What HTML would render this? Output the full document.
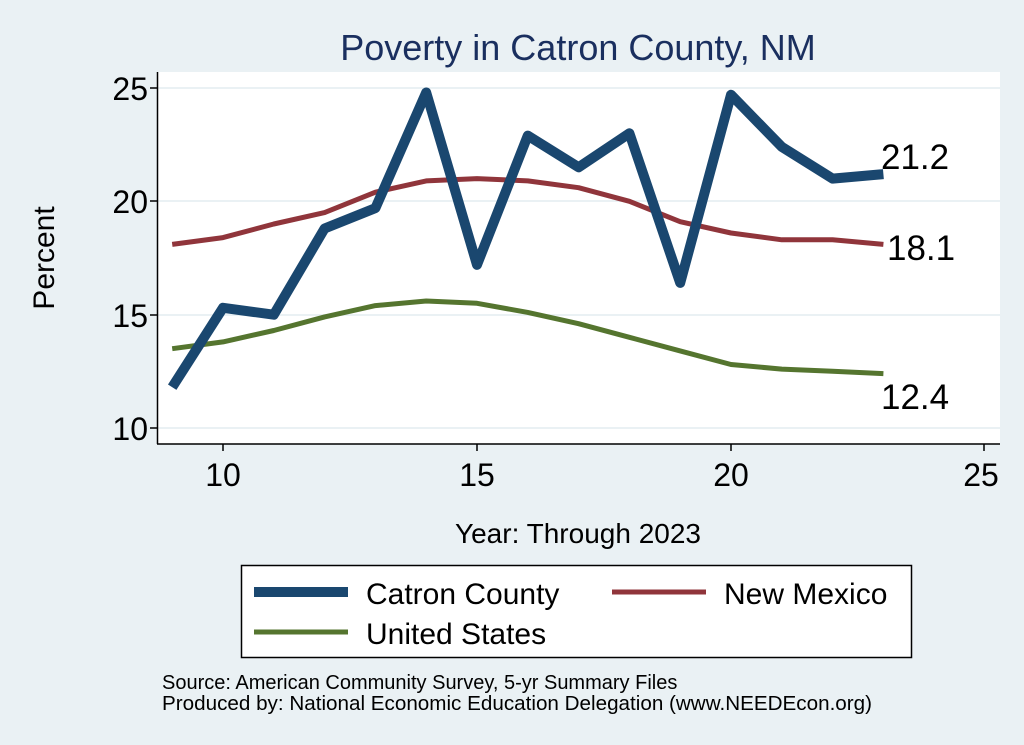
<!DOCTYPE html>
<html><head><meta charset="utf-8"><style>
body{margin:0;background:#eaf1f4;}
svg{display:block;font-family:"Liberation Sans",Arial,sans-serif;}
</style></head><body>
<svg width="1024" height="745" viewBox="0 0 1024 745">
<rect width="1024" height="745" fill="#eaf1f4"/>
<text x="578" y="60" font-size="36" fill="#1a2f5f" text-anchor="middle">Poverty in Catron County, NM</text>
<rect x="158" y="72" width="842" height="372" fill="#fff"/>
<g stroke="#eaf1f4" stroke-width="2">
<line x1="158" x2="1000" y1="88" y2="88"/><line x1="158" x2="1000" y1="201" y2="201"/>
<line x1="158" x2="1000" y1="315" y2="315"/><line x1="158" x2="1000" y1="428" y2="428"/>
</g>
<g stroke="#000" stroke-width="1.5">
<line x1="157.5" y1="72" x2="157.5" y2="444"/><line x1="157" y1="444" x2="1000" y2="444"/>
<line x1="150" x2="157" y1="88" y2="88"/><line x1="150" x2="157" y1="201" y2="201"/>
<line x1="150" x2="157" y1="315" y2="315"/><line x1="150" x2="157" y1="428" y2="428"/>
<line x1="223" x2="223" y1="444" y2="451"/><line x1="477" x2="477" y1="444" y2="451"/>
<line x1="731" x2="731" y1="444" y2="451"/><line x1="984" x2="984" y1="444" y2="451"/>
</g>
<g font-size="32" text-anchor="end" fill="#000">
<text x="148" y="100">25</text><text x="148" y="213">20</text><text x="148" y="327">15</text><text x="148" y="440">10</text>
</g>
<g font-size="32" text-anchor="middle" fill="#000">
<text x="223" y="486">10</text><text x="477" y="486">15</text><text x="731" y="486">20</text><text x="981" y="486">25</text>
</g>
<text x="578" y="543" font-size="28" text-anchor="middle">Year: Through 2023</text>
<text transform="translate(54,258) rotate(-90)" font-size="30" text-anchor="middle">Percent</text>
<g fill="none" stroke-linejoin="round">
<polyline stroke="#55752f" stroke-width="5" points="172.2,348.7 223,341.9 273.8,330.5 324.6,316.9 375.4,305.6 426.2,301 477,303.3 527.8,312.4 578.6,323.7 629.4,337.3 680.2,350.9 731,364.5 781.8,369.1 832.6,371.3 883.4,373.6"/>
<polyline stroke="#90353b" stroke-width="5" points="172.2,244.4 223,237.6 273.8,224 324.6,212.6 375.4,192.2 426.2,180.9 477,178.6 527.8,180.9 578.6,187.7 629.4,201.3 680.2,221.7 731,233 781.8,239.8 832.6,239.8 883.4,244.4"/>
<polyline stroke="#1a476f" stroke-width="10" points="172.2,387.2 223,307.8 273.8,314.7 324.6,228.5 375.4,208.1 426.2,92.5 477,264.8 527.8,135.6 578.6,167.3 629.4,133.3 680.2,282.9 731,94.8 781.8,146.9 832.6,178.6 883.4,174.1"/>
</g>
<g font-size="35" fill="#000">
<text x="881" y="169">21.2</text><text x="887" y="260">18.1</text><text x="881" y="409">12.4</text>
</g>
<rect x="241.5" y="565.5" width="670" height="92" fill="#fff" stroke="#000" stroke-width="1.5"/>
<line x1="254" x2="348" y1="592" y2="592" stroke="#1a476f" stroke-width="10"/>
<text x="366" y="604" font-size="30">Catron County</text>
<line x1="612" x2="706" y1="592" y2="592" stroke="#90353b" stroke-width="5"/>
<text x="724" y="604" font-size="30">New Mexico</text>
<line x1="254" x2="348" y1="632" y2="632" stroke="#55752f" stroke-width="5"/>
<text x="366" y="644" font-size="30">United States</text>
<text x="162" y="689" font-size="20">Source: American Community Survey, 5-yr Summary Files</text>
<text x="162" y="710" font-size="20" textLength="710" lengthAdjust="spacingAndGlyphs">Produced by: National Economic Education Delegation (www.NEEDEcon.org)</text>
</svg>
</body></html>
